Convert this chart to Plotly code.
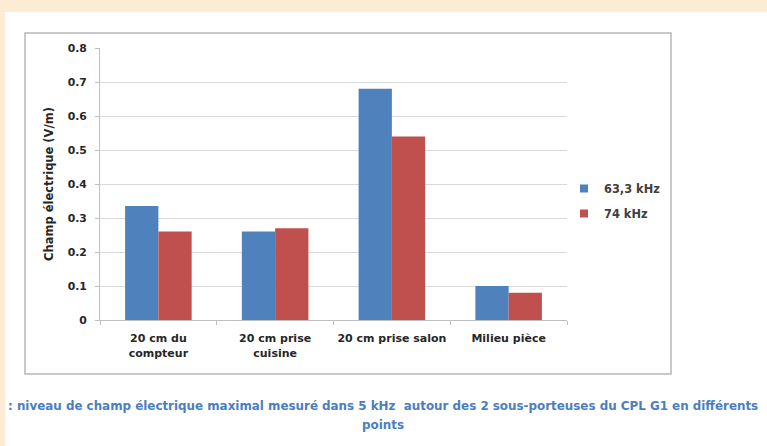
import plotly.graph_objects as go

# Measurement points and the maximal electric field (V/m) for each sub-carrier
categories = ["20 cm du<br>compteur", "20 cm prise<br>cuisine", "20 cm prise salon", "Milieu pièce"]
series_names = ["63,3 kHz", "74 kHz"]
values_63k = [0.335, 0.26, 0.68, 0.10]
values_74k = [0.26, 0.27, 0.54, 0.08]
y_ticks = [0, 0.1, 0.2, 0.3, 0.4, 0.5, 0.6, 0.7, 0.8]
y_tick_labels = ["0", "0.1", "0.2", "0.3", "0.4", "0.5", "0.6", "0.7", "0.8"]
y_title = "Champ électrique (V/m)"
caption_lines = [
    ": niveau de champ électrique maximal mesuré dans 5 kHz  autour des 2 "
    "sous-porteuses du CPL G1 en différents",
    "points",
]

colors = ["#4f81bd", "#c0504d"]
FONT = "DejaVu Sans"
W, H = 767, 446
L, R, T, B = 100, 200, 48, 126
pw, ph = W - L - R, H - T - B


def px_x(x):
    return (x - L) / pw


def px_y(y):
    return (H - B - y) / ph


fig = go.Figure()
for i, (name, vals) in enumerate(zip(series_names, [values_63k, values_74k])):
    fig.add_trace(go.Bar(
        x=categories, y=vals, name=name, showlegend=False,
        marker=dict(color=colors[i], line=dict(width=0)),
    ))
# small square legend keys
for i, name in enumerate(series_names):
    fig.add_trace(go.Scatter(
        x=[None], y=[None], mode="markers", name=name, legendgroup=name,
        marker=dict(symbol="square", size=8, color=colors[i]),
    ))

y_tick_font = dict(family=FONT, size=10.8, color="#262626", weight="bold")
x_tick_font = dict(family=FONT, size=11, color="#262626", weight="bold")

fig.update_layout(
    width=W, height=H,
    margin=dict(l=L, r=R, t=T, b=B),
    paper_bgcolor="#fdebd3",
    plot_bgcolor="white",
    barmode="group",
    bargap=0.43,
    bargroupgap=0,
    font=dict(family=FONT, size=10, color="#404040"),
    showlegend=True,
    legend=dict(
        x=px_x(564), y=px_y(201), xanchor="left", yanchor="middle",
        font=dict(family=FONT, size=11.4, color="#404040", weight="bold"),
        bgcolor="rgba(0,0,0,0)", traceorder="grouped", tracegroupgap=6,
        itemwidth=30,
    ),
    xaxis=dict(
        showgrid=False, showline=True, linecolor="#bfbfbf", linewidth=1,
        ticks="outside", tickson="boundaries", ticklen=4, tickcolor="#bfbfbf",
        tickfont=x_tick_font, ticklabelstandoff=8, tickangle=0,
        fixedrange=True,
    ),
    yaxis=dict(
        range=[0, 0.8], tickvals=y_ticks, ticktext=y_tick_labels,
        showgrid=True, gridcolor="#d9d9d9", gridwidth=1,
        showline=True, linecolor="#bfbfbf", linewidth=1,
        ticks="outside", ticklen=4, tickcolor="#bfbfbf",
        tickfont=y_tick_font, ticklabelstandoff=6,
        title=dict(text=y_title, standoff=11,
                   font=dict(family=FONT, size=11.5, color="#262626", weight="bold")),
        zeroline=False,
    ),
    shapes=[
        # white page over the beige surround
        dict(type="rect", xref="paper", yref="paper", layer="below",
             x0=px_x(5), x1=px_x(W + 2), y0=px_y(12), y1=px_y(H + 2),
             fillcolor="white", line=dict(width=0)),
        # chart frame
        dict(type="rect", xref="paper", yref="paper", layer="below",
             x0=px_x(25), x1=px_x(671), y0=px_y(33), y1=px_y(374),
             fillcolor="white", line=dict(color="#b8b8b8", width=1.5)),
    ],
    annotations=[
        dict(text=caption_lines[0], xref="paper", yref="paper",
             x=px_x(383), y=px_y(406), xanchor="center", yanchor="middle",
             showarrow=False,
             font=dict(family=FONT, size=11.9, color="#4a7ec0", weight="bold")),
        dict(text=caption_lines[1], xref="paper", yref="paper",
             x=px_x(383), y=px_y(425), xanchor="center", yanchor="middle",
             showarrow=False,
             font=dict(family=FONT, size=11.9, color="#4a7ec0", weight="bold")),
    ],
)

fig.write_html("out.html")
